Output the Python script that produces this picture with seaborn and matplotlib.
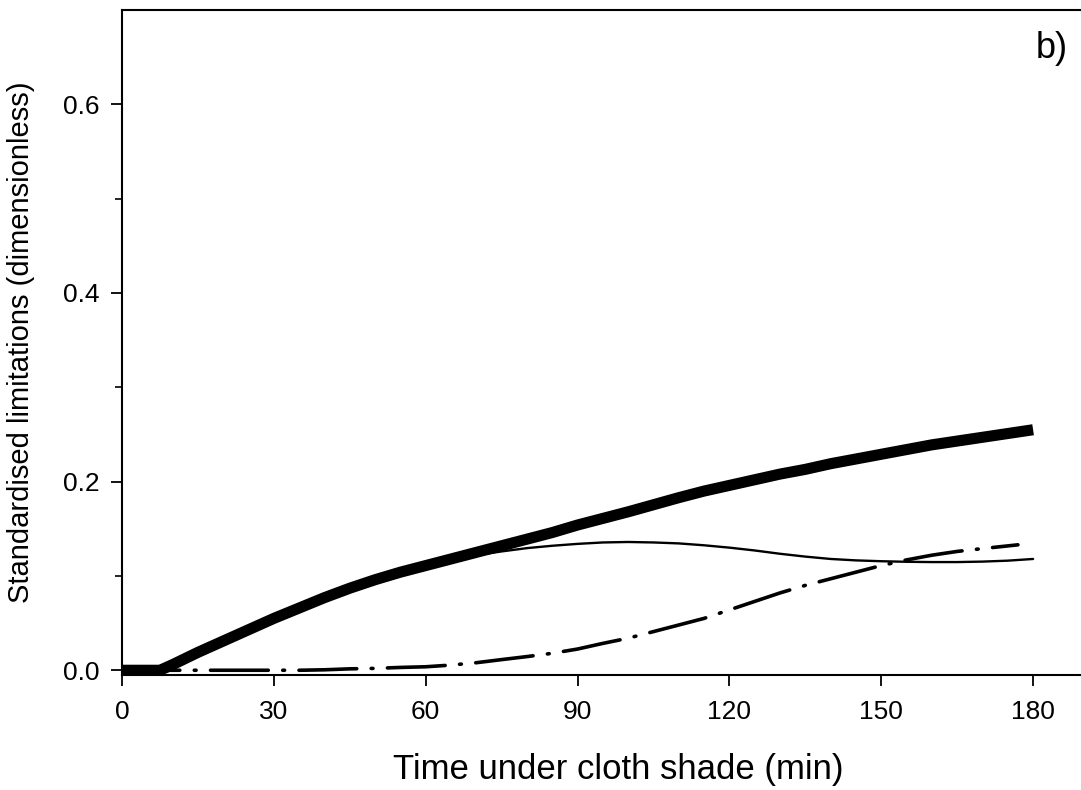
import numpy as np
import pandas as pd
import matplotlib
matplotlib.use('Agg')
import matplotlib.pyplot as plt
import seaborn as sns

# values (time in min, standardised limitation)
thick_t = [0, 7.5, 10, 15, 20, 25, 30, 35, 40, 45, 50, 55, 60, 65, 70, 75, 80, 85, 90,
           95, 100, 105, 110, 115, 120, 125, 130, 135, 140, 145, 150, 155, 160, 165, 170, 175, 180]
thick_y = [0.0, 0.0, 0.006, 0.019, 0.031, 0.043, 0.055, 0.066, 0.077, 0.087, 0.096, 0.104, 0.111,
           0.118, 0.125, 0.132, 0.139, 0.146, 0.154, 0.161, 0.168, 0.1755, 0.183, 0.190, 0.196,
           0.202, 0.208, 0.213, 0.219, 0.224, 0.229, 0.234, 0.239, 0.243, 0.247, 0.251, 0.255]

thin_t = [0, 7.5, 10, 15, 20, 25, 30, 35, 40, 45, 50, 55, 60, 65, 70, 75, 80, 85, 90, 95,
          100, 105, 110, 115, 120, 125, 130, 135, 140, 145, 150, 155, 160, 165, 170, 175, 180]
thin_y = [0.0, 0.0, 0.006, 0.019, 0.031, 0.043, 0.055, 0.066, 0.077, 0.087, 0.096, 0.104, 0.111,
          0.117, 0.122, 0.126, 0.1295, 0.132, 0.134, 0.1355, 0.136, 0.1355, 0.1345, 0.1325,
          0.130, 0.127, 0.1235, 0.1205, 0.118, 0.1165, 0.1156, 0.115, 0.1147, 0.1147, 0.1152,
          0.1162, 0.118]

dd_t = [0, 35, 40, 45, 50, 55, 60, 65, 70, 75, 80, 85, 90, 95, 100, 105, 110, 115, 120,
        125, 130, 135, 140, 145, 150, 155, 160, 165, 170, 177]
dd_y = [0.0, 0.0, 0.0005, 0.0015, 0.002, 0.003, 0.0037, 0.0055, 0.008, 0.0113, 0.0145, 0.018,
        0.0225, 0.0285, 0.034, 0.041, 0.048, 0.055, 0.064, 0.073, 0.082, 0.090, 0.097, 0.104,
        0.111, 0.117, 0.122, 0.126, 0.129, 0.133]

sns.set_style("ticks")
plt.rcParams['font.family'] = ['Liberation Sans', 'DejaVu Sans']
plt.rcParams['text.color'] = 'black'
plt.rcParams['axes.labelcolor'] = 'black'
plt.rcParams['xtick.color'] = 'black'
plt.rcParams['ytick.color'] = 'black'

fig = plt.figure(figsize=(10.81, 7.90), dpi=100)
# the panel runs past the right edge of the picture, as in the original scan
ax = fig.add_axes([0.1129, 0.1456, 0.9177, 0.8417])

sns.lineplot(x=thick_t, y=thick_y, ax=ax, color='black', linewidth=8, solid_capstyle='butt', clip_on=False)
sns.lineplot(x=thin_t, y=thin_y, ax=ax, color='black', linewidth=1.7)
line = sns.lineplot(x=dd_t, y=dd_y, ax=ax, color='black', linewidth=2.6).lines[-1]
line.set_dashes([16, 4, 0.5, 4])
line.set_dash_capstyle('round')

ax.set_xlim(0, 196)
ax.set_ylim(-0.005, 0.70)
ax.set_xticks([0, 30, 60, 90, 120, 150, 180])
ax.set_yticks([0.0, 0.2, 0.4, 0.6])
ax.set_yticklabels(['0.0', '0.2', '0.4', '0.6'])
ax.set_yticks([0.1, 0.3, 0.5], minor=True)
ax.tick_params(axis='both', which='major', direction='out', length=8, width=1.3, labelsize=19, pad=8)
ax.tick_params(axis='x', which='major', pad=10)
ax.tick_params(axis='y', which='minor', direction='out', length=5, width=1.2)

for side in ['left', 'bottom', 'top']:
    ax.spines[side].set_visible(True)
    ax.spines[side].set_linewidth(1.5)
    ax.spines[side].set_color('black')
ax.spines['right'].set_visible(False)

ax.set_xlabel('Time under cloth shade (min)', fontsize=25, labelpad=21)
ax.set_ylabel('Standardised limitations (dimensionless)', fontsize=21, labelpad=20)
fig.text(1068 / 1081, 1 - 31 / 790, 'b)', fontsize=26, ha='right', va='top')

fig.savefig('out.png', dpi=100)
